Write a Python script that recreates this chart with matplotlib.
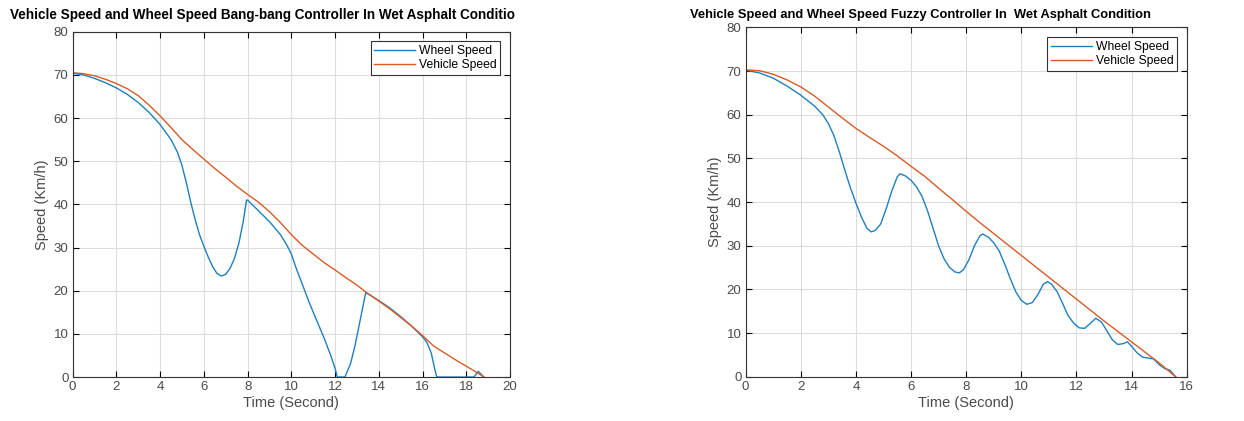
import numpy as np
import matplotlib
matplotlib.use("Agg")
from matplotlib import pyplot as plt

plt.rcParams['font.family'] = ['Liberation Sans', 'DejaVu Sans']

# bang-bang controller (left)
t_veh_bb = [0, 0.5, 1, 1.5, 2, 2.5, 3, 3.5, 4, 4.5, 5, 5.5, 6, 6.5, 7, 7.5, 8, 8.5, 9, 9.5,
            10, 10.5, 11, 11.5, 12, 12.5, 13, 13.4, 14, 14.5, 15, 15.5, 16, 16.5, 17, 17.5, 18, 18.5, 18.8]
v_veh_bb = [70.5, 70.3, 69.8, 69.0, 68.0, 66.8, 65.2, 63.0, 60.5, 57.8, 55.0, 52.7, 50.5, 48.3, 46.3, 44.2,
            42.3, 40.5, 38.3, 35.8, 33.0, 30.5, 28.5, 26.5, 24.8, 23.0, 21.3, 19.7, 17.6, 15.8, 13.8, 11.8,
            9.6, 7.2, 5.6, 4.0, 2.5, 1.0, 0]
t_whl_bb = [0, 0.5, 1, 1.5, 2, 2.5, 3, 3.5, 4, 4.5, 4.8, 5.0, 5.2, 5.4, 5.6, 5.8, 6.0, 6.2, 6.4, 6.6,
            6.8, 7.0, 7.2, 7.4, 7.6, 7.8, 7.95, 8.0, 8.5, 9.0, 9.5, 9.8, 10.0, 10.2, 10.5, 10.8, 11.0,
            11.5, 11.8, 12.0, 12.1, 12.45, 12.7, 12.9, 13.1, 13.3, 13.4, 13.6, 14.0, 14.5, 15.0, 15.5,
            16.0, 16.2, 16.4, 16.55, 16.65, 18.35, 18.55, 18.8]
v_whl_bb = [70.4, 70.0, 69.2, 68.2, 67.0, 65.5, 63.6, 61.3, 58.5, 55.0, 52.0, 49.0, 45.0, 40.5, 36.5,
            33.0, 30.3, 27.8, 25.6, 24.0, 23.4, 23.8, 25.2, 27.5, 31.0, 36.0, 41.0, 41.0, 38.5, 36.0,
            33.0, 30.5, 28.5, 25.5, 21.5, 17.5, 15.0, 9.0, 5.0, 2.0, 0, 0, 3.0, 7.0, 12.0, 17.0, 19.5,
            19.0, 17.7, 16.0, 14.0, 11.8, 9.3, 8.0, 5.5, 2.0, 0, 0, 1.3, 0]

# fuzzy controller (right)
t_veh_fz = [0, 0.5, 1, 1.5, 2, 2.5, 3, 3.5, 4, 4.5, 5, 5.5, 6, 6.5, 7, 7.5, 8, 8.5, 9, 9.5,
            10, 10.5, 11, 11.5, 12, 12.5, 13, 13.5, 14, 14.5, 15, 15.6]
v_veh_fz = [70.3, 70.1, 69.3, 68.0, 66.4, 64.3, 61.8, 59.3, 56.9, 54.8, 52.8, 50.6, 48.2, 45.9, 43.2,
            40.6, 37.9, 35.3, 32.8, 30.3, 27.8, 25.3, 22.8, 20.3, 17.8, 15.3, 12.8, 10.4, 8.0, 5.6, 3.2, 0]
t_whl_fz = [0, 0.5, 1, 1.5, 2, 2.5, 2.8, 3.0, 3.2, 3.4, 3.6, 3.8, 4.0, 4.2, 4.4, 4.55, 4.7, 4.9, 5.1,
            5.3, 5.5, 5.6, 5.8, 6.0, 6.2, 6.4, 6.6, 6.8, 7.0, 7.2, 7.4, 7.6, 7.75, 7.9, 8.1, 8.3, 8.5,
            8.6, 8.8, 9.0, 9.2, 9.4, 9.6, 9.8, 10.0, 10.2, 10.4, 10.6, 10.8, 10.95, 11.1, 11.3, 11.5,
            11.7, 11.9, 12.1, 12.3, 12.5, 12.7, 12.9, 13.1, 13.3, 13.5, 13.7, 13.85, 14.0, 14.2, 14.4,
            14.6, 14.8, 15.0, 15.2, 15.4, 15.6]
v_whl_fz = [70.2, 69.6, 68.4, 66.6, 64.5, 62.0, 60.0, 58.0, 55.3, 51.5, 47.3, 43.3, 39.8, 36.6, 34.0,
            33.2, 33.5, 35.0, 38.5, 42.5, 45.8, 46.5, 46.0, 45.0, 43.5, 41.3, 38.0, 34.0, 30.0, 27.0,
            25.0, 24.0, 23.8, 24.5, 26.8, 30.0, 32.3, 32.7, 32.0, 30.7, 28.8, 25.8, 22.5, 19.5, 17.5,
            16.6, 17.0, 18.8, 21.2, 21.8, 21.2, 19.5, 16.8, 14.0, 12.3, 11.2, 11.1, 12.2, 13.4, 12.6,
            10.6, 8.5, 7.4, 7.6, 8.0, 7.0, 5.5, 4.5, 4.3, 4.1, 2.8, 1.9, 1.5, 0]

titles = ["Vehicle Speed and Wheel Speed Bang-bang Controller In Wet Asphalt Conditio",
          "Vehicle Speed and Wheel Speed Fuzzy Controller In  Wet Asphalt Condition"]

blue = '#1f7fbf'
orange = '#d95a25'
txt = '#4a4a4a'

fig = plt.figure(figsize=(12.44, 4.21), dpi=100)
ax1 = fig.add_axes([0.0584, 0.1045, 0.3516, 0.820])
ax2 = fig.add_axes([0.5994, 0.105, 0.3545, 0.8297])

panels = [(ax1, t_whl_bb, v_whl_bb, t_veh_bb, v_veh_bb, 20),
          (ax2, t_whl_fz, v_whl_fz, t_veh_fz, v_veh_fz, 16)]

for ax, tw, vw, tv, vv, xmax in panels:
    ax.plot(tw, vw, color=blue, lw=1.0, label='Wheel Speed')
    ax.plot(tv, vv, color=orange, lw=1.0, label='Vehicle Speed')
    ax.set_xlim(0, xmax)
    ax.set_ylim(0, 80)
    ax.set_xticks(np.arange(0, xmax + 1, 2))
    ax.set_yticks(np.arange(0, 81, 10))
    ax.grid(True, color='#dcdcdc', lw=0.8)
    ax.set_axisbelow(True)
    ax.tick_params(direction='in', top=True, right=True, length=4, width=0.8,
                   labelsize=9.5, labelcolor=txt, pad=3)
    for s in ax.spines.values():
        s.set_linewidth(0.8)
        s.set_color('#333333')
    ax.set_xlabel('Time (Second)', fontsize=10.5, color=txt, labelpad=2)
    ax.set_ylabel('Speed (Km/h)', fontsize=10.5, color=txt, labelpad=3)
    leg = ax.legend(loc='upper right', fontsize=8.7, handlelength=3.4, fancybox=False,
                    framealpha=1, edgecolor='#333333', borderpad=0.3, labelspacing=0.2,
                    handletextpad=0.3, borderaxespad=0.8)
    leg.get_frame().set_linewidth(0.8)

fig.text(10 / 1244, 1 - 15 / 421, titles[0], fontsize=9.75, fontweight='bold', va='center', ha='left')
fig.text(690 / 1244, 1 - 15 / 421, titles[1], fontsize=9.3, fontweight='bold', va='center', ha='left')

plt.savefig('out.png', dpi=100)
